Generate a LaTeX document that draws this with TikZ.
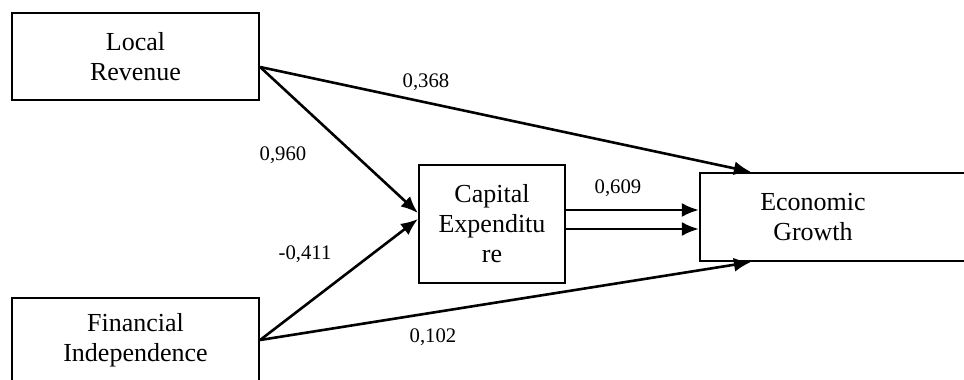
\documentclass[tikz,border=0pt]{standalone}
\usepackage{fontspec}
\setmainfont{Liberation Serif}
\usetikzlibrary{arrows.meta,calc,positioning}
\tikzset{%
	block/.style = {draw, rectangle, line width=2.2pt, align=center, inner sep=0pt, font=\fontsize{26}{30}\selectfont},
	arrow/.style = {line width=2.6pt, -{Latex[length=17pt,width=14pt]}},
	coef/.style  = {inner sep=0pt, font=\fontsize{20.7}{24}\selectfont},
}
\begin{document}
\begin{tikzpicture}[x=1pt,y=-1pt]
	\useasboundingbox (0,0) rectangle (964,380);
	\node[block, minimum width=247pt, minimum height=87pt]  (lr) at (135.5,56.5) {Local\\Revenue};
	\node[block, minimum width=247pt, minimum height=84pt]  (fi) at (135.5,340) {Financial\\Independence};
	\node[block, minimum width=146pt, minimum height=118pt] (ce) at (492,224) {Capital\\Expenditu\\re};
	\node[block, minimum width=300pt, minimum height=88pt]  (eg) at (850,217) {}; % box runs off the page
	\node[font=\fontsize{26}{30}\selectfont, align=center] (egtext) at (813,217) {Economic\\Growth};
	% paths
	\draw[arrow] ($(lr.east)+(0,10.5)$) -- ($(eg.north west)+(52,0)$);
	\draw[arrow] ($(lr.east)+(0,10.5)$) -- ($(ce.west)+(0,-11)$);
	\draw[arrow] (fi.east) -- ($(ce.west)+(0,-5)$);
	\draw[arrow] (fi.east) -- ($(eg.south west)+(52,0)$);
	\draw[arrow] ($(ce.east)+(0,-14)$) -- ($(eg.west)+(0,-7)$);
	\draw[arrow] ($(ce.east)+(0,5)$) -- ($(eg.west)+(0,12)$);
	% coefficients
	\node[coef] (c1) at (426,82) {0,368};
	\node[coef] (c2) at (283,155) {0,960};
	\node[coef] (c3) at (305,254) {-0,411};
	\node[coef] (c4) at (433,337) {0,102};
	\node[coef] (c5) at (618,188) {0,609};
\end{tikzpicture}
\end{document}
